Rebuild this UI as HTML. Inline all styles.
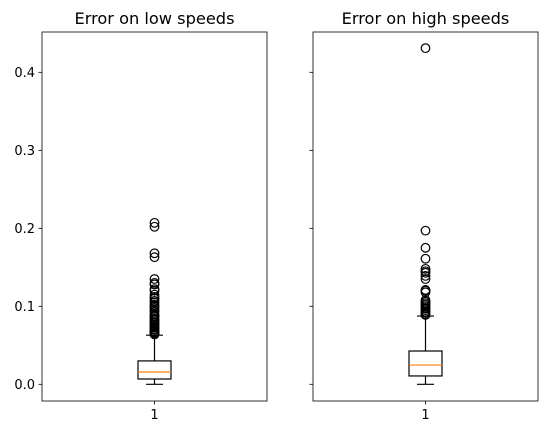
<!DOCTYPE html>
<html><head><meta charset="utf-8"><style>body{margin:0;background:#fff}svg{display:block;font-family:"DejaVu Sans","Liberation Sans",sans-serif}</style></head>
<body>
<svg id="c" width="547" height="435"></svg>
<script>
const titles = ["Error on low speeds", "Error on high speeds"];
const yTicks = [0.0, 0.1, 0.2, 0.3, 0.4];
const xTickLabels = ["1"];
const lowStats = [0.0, 0.0068, 0.0158, 0.030, 0.063];
const highStats = [0.0, 0.0107, 0.0247, 0.0427, 0.0875];
const lowOutliers = [0.207,0.202,0.168,0.163,0.135,0.13,0.128,0.122,0.12,0.115,0.112,0.11,0.107,0.105,0.102,0.10,0.098,0.095,0.093,0.09,0.088,0.087,0.085,0.083,0.082,0.08,0.079,0.077,0.076,0.074,0.073,0.071,0.07,0.068,0.067,0.066,0.065,0.064];
const highOutliers = [0.431,0.197,0.175,0.161,0.148,0.145,0.143,0.139,0.135,0.121,0.12,0.118,0.108,0.106,0.104,0.102,0.1,0.098,0.097,0.095,0.093,0.092,0.09,0.089];
const yMin = -0.0214, yMax = 0.4517;
const NS = "http://www.w3.org/2000/svg";
const svg = document.getElementById('c');
const top0 = 32, bot0 = 401;
function y(v){ return bot0 - (v - yMin)/(yMax - yMin)*(bot0 - top0); }
function mk(tag, attrs, parent){ const e=document.createElementNS(NS,tag); for(const k in attrs) e.setAttribute(k,attrs[k]); (parent||svg).appendChild(e); return e; }
const panels = [{x0:42,x1:267,stats:lowStats,out:lowOutliers,labels:true},{x0:313,x1:538,stats:highStats,out:highOutliers,labels:false}];
panels.forEach((p,i)=>{
  const g = mk('g',{});
  
  
  const cx = (p.x0+p.x1)/2, hw = 16.5, cw = 8.5;
  const s = p.stats;
  const t = mk('text',{x:cx,y:24,'text-anchor':'middle','font-size':'16.2',fill:'#000'},g);
  t.textContent = titles[i];
  
  
  yTicks.forEach(v=>{
    const ty=y(v);
    mk('line',{x1:p.x0-3.5,x2:p.x0,y1:ty,y2:ty,stroke:'#000','stroke-width':0.8},g);
    if(p.labels){ const l=mk('text',{x:p.x0-7,y:ty+4.5,'text-anchor':'end','font-size':'13',fill:'#000'},g); l.textContent=v.toFixed(1);
      
       }
  });
  mk('line',{x1:cx,x2:cx,y1:bot0,y2:bot0+3.5,stroke:'#000','stroke-width':0.8},g);
  const xl=mk('text',{x:cx,y:bot0+18,'text-anchor':'middle','font-size':'13',fill:'#000'},g); xl.textContent=xTickLabels[0];
  
  
  mk('line',{x1:cx,x2:cx,y1:y(s[3]),y2:y(s[4]),stroke:'#000','stroke-width':1.2},g);
  mk('line',{x1:cx,x2:cx,y1:y(s[0]),y2:y(s[1]),stroke:'#000','stroke-width':1.2},g);
  mk('line',{x1:cx-cw,x2:cx+cw,y1:y(s[4]),y2:y(s[4]),stroke:'#000','stroke-width':1.2},g);
  mk('line',{x1:cx-cw,x2:cx+cw,y1:y(s[0]),y2:y(s[0]),stroke:'#000','stroke-width':1.2},g);
  const b=mk('rect',{x:cx-hw,y:y(s[3]),width:2*hw,height:y(s[1])-y(s[3]),fill:'none',stroke:'#000','stroke-width':1.2},g);
  
  
  mk('line',{x1:cx-hw,x2:cx+hw,y1:y(s[2]),y2:y(s[2]),stroke:'#ff7f0e','stroke-width':1.2},g);
  p.out.forEach(v=>{ const c=mk('circle',{cx:cx,cy:y(v),r:4.3,fill:'none',stroke:'#000','stroke-width':1.2},g);
    
     });
  mk('rect',{x:p.x0,y:top0,width:p.x1-p.x0,height:bot0-top0,fill:'none',stroke:'#000','stroke-width':0.8},g);
});
</script>
</body></html>
